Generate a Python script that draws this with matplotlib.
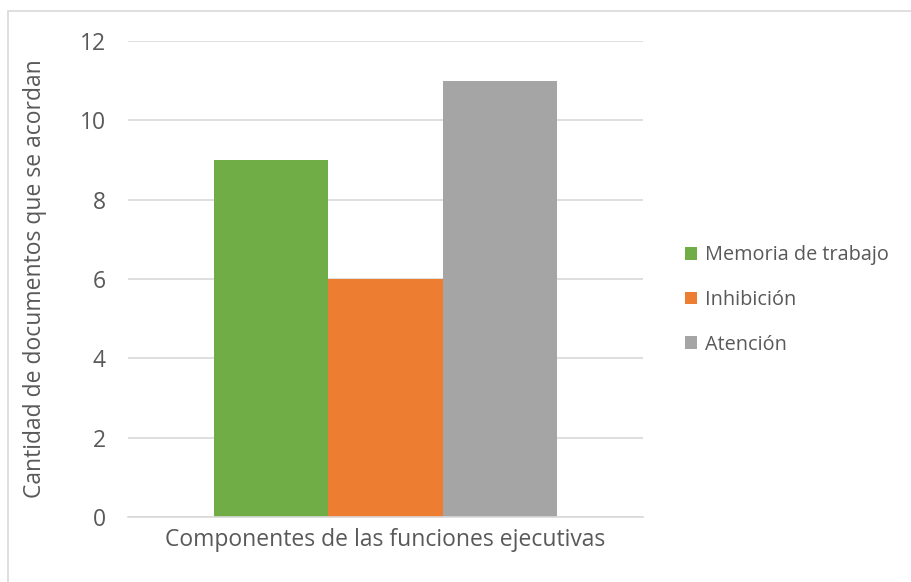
import matplotlib
matplotlib.use("Agg")
import matplotlib.pyplot as plt
from matplotlib.patches import Rectangle

# Data
series = ["Memoria de trabajo", "Inhibición", "Atención"]
values = [9, 6, 11]
colors = ["#70ad47", "#ed7d31", "#a5a5a5"]
category = "Componentes de las funciones ejecutivas"
y_label = "Cantidad de documentos que se acordan"
y_ticks = [0, 2, 4, 6, 8, 10, 12]

text_color = "#595959"
grid_color = "#d9d9d9"
font = "Open Sans"
fs_axis = 16.5
fs_legend = 14.3

fig = plt.figure(figsize=(9.11, 5.82), dpi=100)
fig.patch.set_facecolor("white")

# chart-area border
fig.add_artist(Rectangle((8 / 911, -0.05), 1.1, 1 - 11 / 582 + 0.05,
                         transform=fig.transFigure, fill=False,
                         edgecolor=grid_color, linewidth=1.2))

ax = fig.add_axes([128 / 911, 65 / 582, 515 / 911, 476 / 582])

bar_w = 0.222
offsets = [-bar_w, 0, bar_w]
handles = []
for off, v, c, name in zip(offsets, values, colors, series):
    h = ax.bar(off, v, width=bar_w, color=c, label=name, zorder=3)
    handles.append(h)

ax.set_xlim(-0.5, 0.5)
ax.set_ylim(0, 12)
ax.set_yticks(y_ticks)
ax.set_yticklabels([str(t) for t in y_ticks], fontsize=fs_axis,
                   color=text_color, family=font)
ax.set_xticks([0])
ax.set_xticklabels([category], fontsize=fs_axis, color=text_color, family=font)
ax.tick_params(axis="y", length=0, pad=16)
ax.tick_params(axis="x", length=0, pad=8)

ax.grid(axis="y", color=grid_color, linewidth=1.2, zorder=0)
for s in ["top", "right", "left"]:
    ax.spines[s].set_visible(False)
ax.spines["bottom"].set_color(grid_color)
ax.spines["bottom"].set_linewidth(1.2)
ax.spines["bottom"].set_zorder(4)

fig.text(35 / 911, 1 - 279 / 582, y_label, rotation=90, ha="center",
         va="center", fontsize=fs_axis, color=text_color, family=font)

leg = fig.legend(handles=handles, labels=series, loc="center left",
                 bbox_to_anchor=(667 / 911, 1 - 300 / 582), frameon=False,
                 handlelength=0.6, handleheight=0.6, handletextpad=0.4,
                 labelspacing=1.24, prop={"family": font, "size": fs_legend})
for t in leg.get_texts():
    t.set_color(text_color)

fig.savefig("out.png", dpi=100)
